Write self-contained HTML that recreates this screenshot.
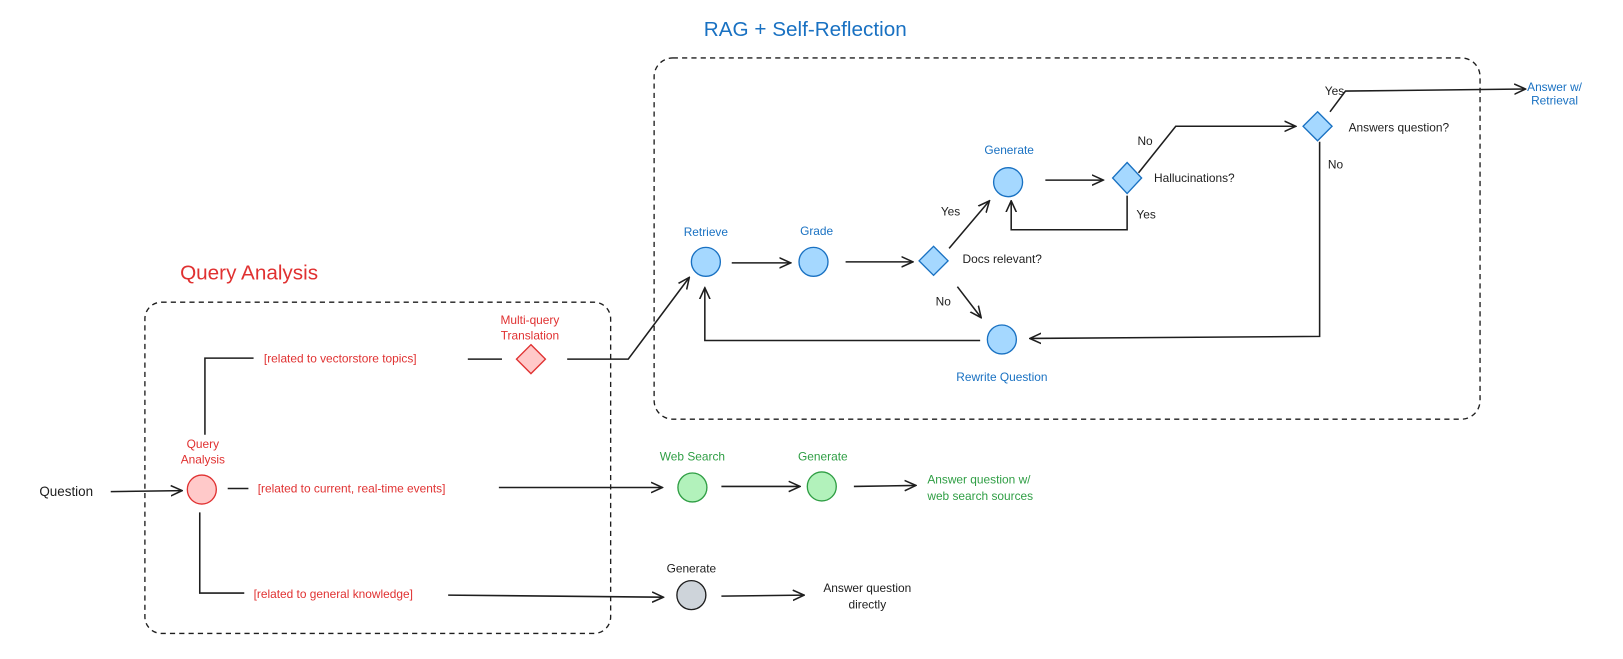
<!DOCTYPE html>
<html><head><meta charset="utf-8"><style>
html,body{margin:0;padding:0;background:#fff;}
svg{display:block;}
text{font-family:"Liberation Sans",sans-serif;font-size:11.5px;}
</style></head><body>
<svg width="1623" height="659" viewBox="0 0 1623 659" xmlns="http://www.w3.org/2000/svg">
<defs>
<marker id="a" viewBox="0 0 12 12" refX="11" refY="6" markerWidth="12" markerHeight="12" markerUnits="userSpaceOnUse" orient="auto">
<path d="M0,1 L11,6 L0,11" fill="none" stroke="#1e1e1e" stroke-width="1.5"/></marker>
</defs>
<g transform="scale(1.035)">
<rect x="140" y="292" width="450" height="320" rx="16" fill="none" stroke="#1e1e1e" stroke-width="1.3" stroke-dasharray="5,4"/>
<rect x="632" y="56" width="798" height="349" rx="18" fill="none" stroke="#1e1e1e" stroke-width="1.3" stroke-dasharray="5,4"/>
<text x="680" y="35" fill="#1971c2" style="font-size:20px">RAG + Self-Reflection</text>
<text x="174" y="270" fill="#e03131" style="font-size:20px">Query Analysis</text>

<g stroke="#1e1e1e" stroke-width="1.5" fill="none">
<path d="M107,475 L176,474" marker-end="url(#a)"/>
<path d="M198,420 L198,346 L245,346"/>
<path d="M452,347 L485,347"/>
<path d="M548,347 L607,347 L666,268" marker-end="url(#a)"/>
<path d="M220,472 L240,472"/>
<path d="M482,471 L640,471" marker-end="url(#a)"/>
<path d="M193,495 L193,573 L236,573"/>
<path d="M433,575 L641,577" marker-end="url(#a)"/>
<path d="M697,470 L773,470" marker-end="url(#a)"/>
<path d="M825,470 L885,469" marker-end="url(#a)"/>
<path d="M697,576 L777,575" marker-end="url(#a)"/>
<path d="M707,254 L764,254" marker-end="url(#a)"/>
<path d="M817,253 L882,253" marker-end="url(#a)"/>
<path d="M917,240 L956,194" marker-end="url(#a)"/>
<path d="M925,277 L948,307" marker-end="url(#a)"/>
<path d="M1010,174 L1066,174" marker-end="url(#a)"/>
<path d="M1089,189 L1089,222 L977,222 L977,194" marker-end="url(#a)"/>
<path d="M1100,167 L1136,122 L1252,122" marker-end="url(#a)"/>
<path d="M1285,108 L1300,88 L1474,86" marker-end="url(#a)"/>
<path d="M1275,137 L1275,325 L995,327" marker-end="url(#a)"/>
<path d="M947,329 L681,329 L681,278" marker-end="url(#a)"/>
</g>

<circle cx="195" cy="473" r="14" fill="#ffc9c9" stroke="#e03131" stroke-width="1.3"/>
<path d="M513,333 L527,347 L513,361 L499,347 Z" fill="#ffc9c9" stroke="#e03131" stroke-width="1.3"/>
<g fill="#a5d8ff" stroke="#1971c2" stroke-width="1.3">
<circle cx="682" cy="253" r="14"/>
<circle cx="786" cy="253" r="14"/>
<circle cx="974" cy="176" r="14"/>
<circle cx="968" cy="328" r="14"/>
<path d="M902,238 L916,252 L902,266 L888,252 Z"/>
<path d="M1089,157 L1103,172 L1089,187 L1075,172 Z"/>
<path d="M1273,108 L1287,122 L1273,136 L1259,122 Z"/>
</g>
<circle cx="669" cy="471" r="14" fill="#b2f2bb" stroke="#2f9e44" stroke-width="1.3"/>
<circle cx="794" cy="470" r="14" fill="#b2f2bb" stroke="#2f9e44" stroke-width="1.3"/>
<circle cx="668" cy="575" r="14" fill="#ced4da" stroke="#1e1e1e" stroke-width="1.3"/>

<g text-anchor="middle" fill="#e03131">
<text x="196" y="433">Query</text><text x="196" y="448">Analysis</text>
<text x="512" y="313">Multi-query</text><text x="512" y="328">Translation</text>
</g>
<g fill="#e03131">
<text x="255" y="350">[related to vectorstore topics]</text>
<text x="249" y="476">[related to current, real-time events]</text>
<text x="245" y="578">[related to general knowledge]</text>
</g>
<text x="38" y="479" fill="#1e1e1e" style="font-size:13px">Question</text>
<g text-anchor="middle" fill="#1971c2">
<text x="682" y="228">Retrieve</text>
<text x="789" y="227">Grade</text>
<text x="975" y="149">Generate</text>
<text x="968" y="368">Rewrite Question</text>
<text x="1502" y="88">Answer w/</text><text x="1502" y="101">Retrieval</text>
</g>
<g fill="#1e1e1e">
<text x="930" y="254">Docs relevant?</text>
<text x="1115" y="176">Hallucinations?</text>
<text x="1303" y="127">Answers question?</text>
<text x="909" y="208">Yes</text>
<text x="904" y="295">No</text>
<text x="1098" y="211">Yes</text>
<text x="1099" y="140">No</text>
<text x="1280" y="92">Yes</text>
<text x="1283" y="163">No</text>
</g>
<g text-anchor="middle" fill="#2f9e44">
<text x="669" y="445">Web Search</text>
<text x="795" y="445">Generate</text>
</g>
<g fill="#2f9e44"><text x="896" y="467">Answer question w/</text><text x="896" y="483">web search sources</text></g>
<g text-anchor="middle" fill="#1e1e1e">
<text x="668" y="553">Generate</text>
<text x="838" y="572">Answer question</text><text x="838" y="588">directly</text>
</g>
</g>
</svg>
</body></html>
